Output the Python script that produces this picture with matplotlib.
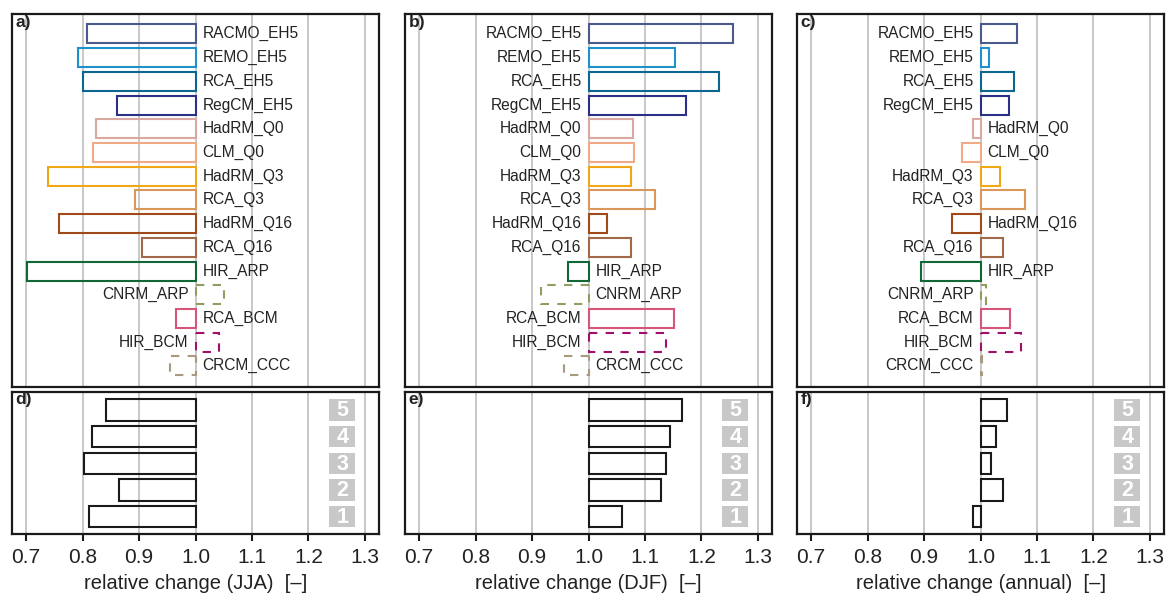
import matplotlib
matplotlib.use("Agg")
import matplotlib.pyplot as plt
import numpy as np

plt.rcParams['font.family'] = ['Liberation Sans', 'DejaVu Sans']

# ---------------- data ----------------
models = ["RACMO_EH5", "REMO_EH5", "RCA_EH5", "RegCM_EH5", "HadRM_Q0", "CLM_Q0",
          "HadRM_Q3", "RCA_Q3", "HadRM_Q16", "RCA_Q16", "HIR_ARP", "CNRM_ARP",
          "RCA_BCM", "HIR_BCM", "CRCM_CCC"]
jja = [0.808, 0.792, 0.800, 0.861, 0.823, 0.819, 0.739, 0.893, 0.759, 0.906,
       0.701, 1.050, 0.965, 1.041, 0.955]
djf = [1.256, 1.153, 1.232, 1.172, 1.079, 1.080, 1.076, 1.118, 1.032, 1.076,
       0.964, 0.915, 1.151, 1.137, 0.956]
ann = [1.065, 1.015, 1.060, 1.050, 0.986, 0.967, 1.035, 1.079, 0.950, 1.040,
       0.894, 1.009, 1.053, 1.072, 1.003]
dashed_models = ["CNRM_ARP", "HIR_BCM", "CRCM_CCC"]

groups = ["5", "4", "3", "2", "1"]
jja_grp = [0.841, 0.817, 0.803, 0.864, 0.812]
djf_grp = [1.166, 1.144, 1.138, 1.128, 1.060]
ann_grp = [1.047, 1.027, 1.019, 1.039, 0.986]

xticks = [0.7, 0.8, 0.9, 1.0, 1.1, 1.2, 1.3]
xticklabels = ["0.7", "0.8", "0.9", "1.0", "1.1", "1.2", "1.3"]
seasons = ["JJA", "DJF", "annual"]
top_letters = ["a)", "b)", "c)"]
bot_letters = ["d)", "e)", "f)"]

# ---------------- styles ----------------
colors = ["#4a5a8c", "#1e90cc", "#0b6790", "#2b2f85", "#d9a8a0", "#f0aa88",
          "#f0a818", "#d9985a", "#a04a1a", "#a06a48", "#106836", "#8f9e60",
          "#d6567a", "#a0106a", "#a89a80"]
TEXT = "#222222"
GRID = "#c8c8c8"
BOXGRAY = "#c8c8c8"

fig = plt.figure(figsize=(11.69, 6.03), dpi=100)

lefts = [12 / 1169, 405 / 1169, 797 / 1169]
width = 367 / 1169
top_b, top_h = 1 - 387 / 603, (387 - 14) / 603
bot_b, bot_h = 1 - 534.3 / 603, (534.3 - 391.7) / 603

xlim = (0.675, 1.325)


def style_axes(ax):
    ax.set_xlim(*xlim)
    for x in xticks:
        ax.axvline(x, color=GRID, lw=1.4, zorder=0)
    for s in ax.spines.values():
        s.set_linewidth(1.6)
        s.set_color("#1a1a1a")
    ax.set_yticks([])


top_vals = [jja, djf, ann]
bot_vals = [jja_grp, djf_grp, ann_grp]

for k in range(3):
    # ---- top panel ----
    ax = fig.add_axes([lefts[k], top_b, width, top_h])
    style_axes(ax)
    ax.set_xticks([])
    y = np.arange(len(models))
    vals = top_vals[k]
    for i, (m, v) in enumerate(zip(models, vals)):
        ls = (0, (4, 4)) if m in dashed_models else "solid"
        ax.barh(y[i], v - 1, left=1, height=0.8, fill=False,
                edgecolor=colors[i], linewidth=1.5, linestyle=ls, zorder=3)
        if v < 1:
            ax.annotate(m, (1, y[i]), xytext=(5, 0), textcoords="offset points",
                        ha="left", va="center", fontsize=11.2, color=TEXT)
        else:
            ax.annotate(m, (1, y[i]), xytext=(-5, 0), textcoords="offset points",
                        ha="right", va="center", fontsize=11.2, color=TEXT)
    ax.set_ylim(len(models) - 1 + 0.89, -0.84)
    ax.text(0.01, 0.996, top_letters[k], transform=ax.transAxes, ha="left",
            va="top", fontsize=12.5, fontweight="bold", color=TEXT)

    # ---- bottom panel ----
    axb = fig.add_axes([lefts[k], bot_b, width, bot_h])
    style_axes(axb)
    yb = np.arange(len(groups))
    bv = bot_vals[k]
    for i, (g, v) in enumerate(zip(groups, bv)):
        axb.barh(yb[i], v - 1, left=1, height=0.8, fill=False,
                 edgecolor="#1a1a1a", linewidth=1.5, zorder=3)
        axb.barh(yb[i], 0.046, left=1.237, height=0.8, color=BOXGRAY,
                 edgecolor="none", zorder=2)
        axb.text(1.26, yb[i] + 0.03, g, ha="center", va="center", fontsize=15.5,
                 fontweight="bold", color="white", zorder=4)
    axb.set_ylim(len(groups) - 1 + 0.66, -0.69)
    axb.set_xticks(xticks)
    axb.set_xticklabels(xticklabels, fontsize=15, color=TEXT)
    axb.tick_params(axis="x", length=5, width=1.5, pad=5, color="#1a1a1a")
    axb.set_xlabel("relative change (%s)  [\u2013]" % seasons[k], fontsize=14.5,
                   color=TEXT, labelpad=5)
    axb.text(0.01, 0.996, bot_letters[k], transform=axb.transAxes, ha="left",
             va="top", fontsize=12.5, fontweight="bold", color=TEXT)

fig.savefig("out.png", dpi=100)
